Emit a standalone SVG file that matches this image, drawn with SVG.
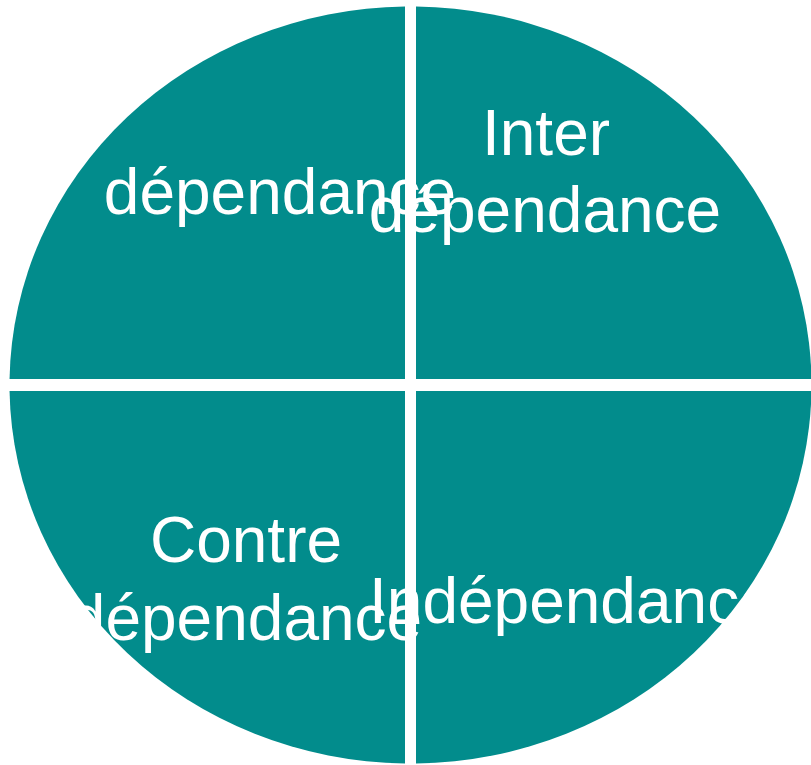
<svg xmlns="http://www.w3.org/2000/svg" width="811" height="765" viewBox="0 0 811 765">
  <style>
    .q { fill: #028C8C; }
    .t { fill: #FFFFFF; font-family: "Liberation Sans", Arial, sans-serif; font-size: 64px; }
  </style>
  <rect width="811" height="765" fill="#FFFFFF"/>
  <g id="connectors"></g>
  <g id="q-top-left">
    <path class="q" d="M405,379 L405,6.55 A401,378.5 0 0 0 9.55,379 Z"/>
  </g>
  <g id="q-top-right">
    <path class="q" d="M416,379 L416,6.55 A401,378.5 0 0 1 811.45,379 Z"/>
  </g>
  <g id="q-bottom-left">
    <path class="q" d="M405,391 L405,763.45 A401,378.5 0 0 1 9.55,391 Z"/>
  </g>
  <g id="q-bottom-right">
    <path class="q" d="M416,391 L811.45,391 A401,378.5 0 0 1 416,763.45 Z"/>
  </g>
  <g id="label-top-left">
    <text class="t" x="280" y="214" text-anchor="middle">dépendance</text>
  </g>
  <g id="label-top-right">
    <text class="t" x="546" y="155" text-anchor="middle">Inter</text>
    <text class="t" x="545" y="232" text-anchor="middle">dépendance</text>
  </g>
  <g id="label-bottom-left">
    <text class="t" x="246" y="562" text-anchor="middle">Contre</text>
    <text class="t" x="246" y="640" text-anchor="middle">dépendance</text>
  </g>
  <g id="label-bottom-right">
    <text class="t" x="369" y="623">Indépendance</text>
  </g>
</svg>
